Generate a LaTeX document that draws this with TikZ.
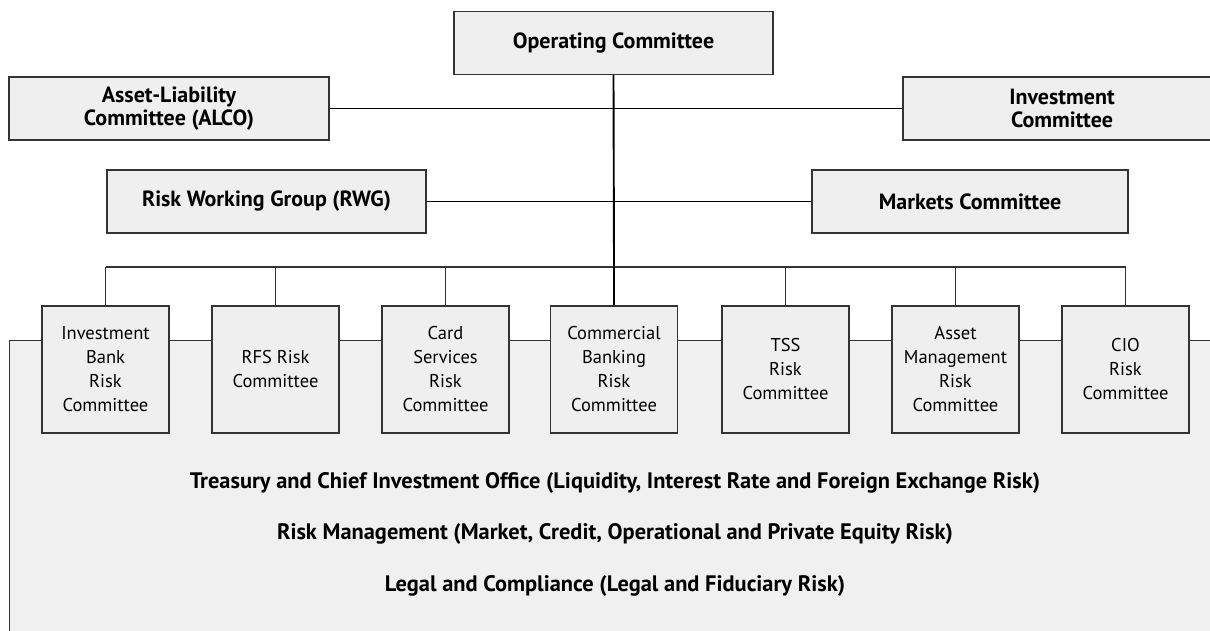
\documentclass[tikz,border=0pt]{standalone}
\usepackage{fontspec}
\setmainfont{PT Sans}
\definecolor{boxfill}{HTML}{EFEFEF}
\definecolor{areafill}{HTML}{F0F0F0}
\definecolor{edge}{HTML}{333333}
\begin{document}
\begin{tikzpicture}[x=1pt,y=-1pt,
  bigbox/.style={draw=edge, fill=boxfill, line width=1.3pt, align=center, inner sep=0pt,
    minimum height=63pt, font=\bfseries\fontsize{22}{23}\selectfont},
  smallbox/.style={draw=edge, fill=boxfill, line width=1.3pt, align=center, inner sep=0pt,
    minimum width=127pt, minimum height=127pt, font=\fontsize{18.5}{24}\selectfont},
  mainline/.style={draw=black, line width=1.9pt},
  busline/.style={draw=edge, line width=1.2pt},
  areatext/.style={font=\bfseries\fontsize{22.4}{24}\selectfont, anchor=center}]
\useasboundingbox (0,0) rectangle (1210,630);
% shaded area
\fill[areafill] (9,340) rectangle (1220,640);
\draw[edge, line width=1pt] (1220,340) -- (9,340) -- (9,640);

% top boxes
\node[bigbox, minimum width=319pt] (op) at (613.5,43) {Operating Committee};
\node[bigbox, minimum width=320pt] (alco) at (169,108.5) {Asset-Liability\\Committee (ALCO)};
\node[bigbox, minimum width=318pt] (inv) at (1062,108.5) {Investment\\Committee};
\node[bigbox, minimum width=319pt] (rwg) at (266.5,201.5) {Risk Working Group (RWG)};
\node[bigbox, minimum width=316pt] (mkt) at (970,201.5) {Markets Committee};

% committees
\node[smallbox] (ib)   at (105.5,369.5) {Investment\\Bank\\Risk\\Committee};
\node[smallbox] (rfs)  at (275.5,369.5) {RFS Risk\\Committee};
\node[smallbox] (card) at (445.5,369.5) {Card\\Services\\Risk\\Committee};
\node[smallbox] (comm) at (614,369.5) {Commercial\\Banking\\Risk\\Committee};
\node[smallbox] (tss)  at (785.5,369.5) {TSS\\Risk\\Committee};
\node[smallbox] (am)   at (955.5,369.5) {Asset\\Management\\Risk\\Committee};
\node[smallbox] (cio)  at (1125.5,369.5) {CIO\\Risk\\Committee};

\coordinate (bus) at (614,267);

% connectors
\draw[mainline] (op.south) -- (bus);
\draw[mainline] (alco.east) -- (inv.west);
\draw[mainline] (rwg.east) -- (mkt.west);
\draw[busline] (ib.north |- bus) -- (cio.north |- bus);
\foreach \n in {ib,rfs,card,tss,am,cio}
  \draw[busline] (\n.north) -- (\n.north |- bus);
\draw[mainline] (bus) -- (comm.north);

% area texts
\node[areatext] (t1) at (615,483) {Treasury and Chief Investment Office (Liquidity, Interest Rate and Foreign Exchange Risk)};
\node[areatext] (t2) at (615,534) {Risk Management (Market, Credit, Operational and Private Equity Risk)};
\node[areatext] (t3) at (615,586) {Legal and Compliance (Legal and Fiduciary Risk)};
\end{tikzpicture}
\end{document}
